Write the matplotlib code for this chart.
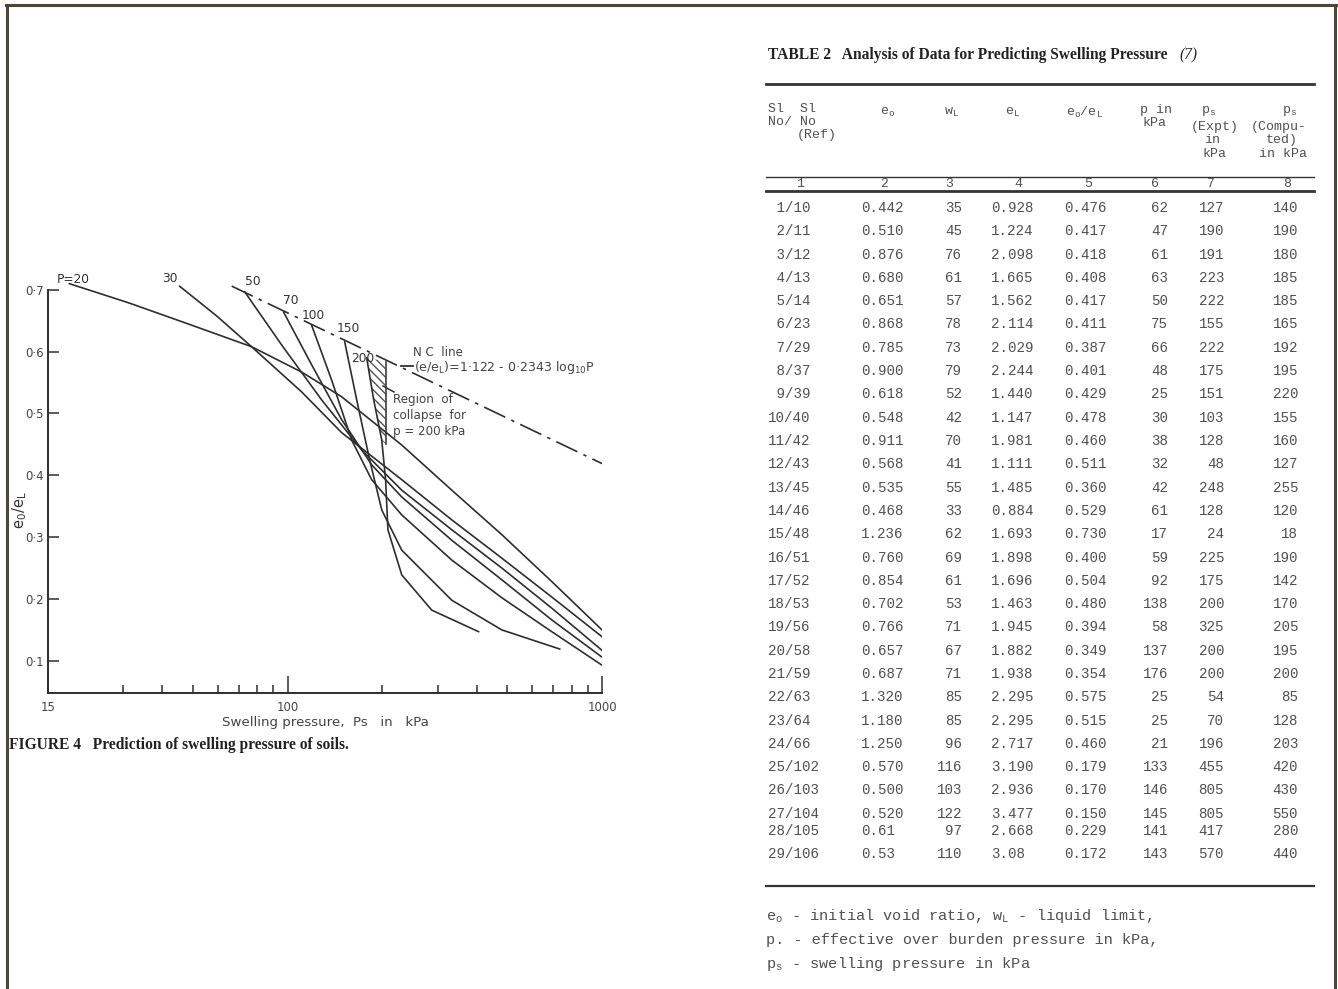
import matplotlib.pyplot as plt
from matplotlib.lines import Line2D

plt.rcParams['mathtext.fontset'] = 'custom'
plt.rcParams['mathtext.rm'] = 'Liberation Mono'
plt.rcParams['mathtext.it'] = 'Liberation Mono'
plt.rcParams['mathtext.sf'] = 'DejaVu Sans'

# ---------------- Figure 4: e0/eL vs swelling pressure ----------------
p_labels = ['P=20', '30', '50', '70', '100', '150', '200']

ps_p20 = [20.2, 31.2, 49.4, 76.8, 110.8, 148.6, 230.7, 332.8, 480.3, 693, 1000]
r_p20 = [0.710, 0.679, 0.643, 0.608, 0.567, 0.527, 0.449, 0.376, 0.304, 0.228, 0.150]
ps_p30 = [45.3, 59.4, 76.8, 110.8, 148.6, 230.7, 332.8, 480.3, 693, 1000]
r_p30 = [0.706, 0.658, 0.608, 0.535, 0.469, 0.393, 0.328, 0.266, 0.203, 0.139]
ps_p50 = [73.0, 95.7, 128.3, 172.0, 230.7, 332.8, 480.3, 693, 1000]
r_p50 = [0.697, 0.611, 0.522, 0.441, 0.376, 0.312, 0.250, 0.185, 0.117]
ps_p70 = [97.1, 119.2, 148.6, 185.1, 230.7, 332.8, 480.3, 693, 1000]
r_p70 = [0.664, 0.579, 0.490, 0.417, 0.365, 0.295, 0.231, 0.166, 0.106]
ps_p100 = [119.2, 138.1, 159.9, 185.1, 230.7, 332.8, 480.3, 693, 1000]
r_p100 = [0.643, 0.554, 0.457, 0.393, 0.336, 0.263, 0.202, 0.147, 0.093]
ps_p150 = [151.9, 165.9, 182.4, 199.3, 230.7, 332.8, 480.3, 734.8]
r_p150 = [0.616, 0.522, 0.425, 0.344, 0.279, 0.198, 0.150, 0.119]
ps_p200 = [178.5, 187.9, 199.3, 205.0, 208.5, 230.7, 287.4, 405.6]
r_p200 = [0.590, 0.522, 0.457, 0.393, 0.312, 0.239, 0.182, 0.147]

# N C line end points
nc_ps = [66.4, 1000]
nc_r = [0.706, 0.419]

# region of collapse for p = 200 kPa
collapse_ps = [178.5, 205.0, 205.0, 199.3, 187.9]
collapse_r = [0.590, 0.584, 0.450, 0.457, 0.522]

yticks = [0.1, 0.2, 0.3, 0.4, 0.5, 0.6, 0.7]
ytick_labels = ['0·1', '0·2', '0·3', '0·4', '0·5', '0·6', '0·7']
xminor = [30, 40, 50, 60, 70, 80, 90, 200, 300, 400, 500, 600, 700, 800, 900]

# ---------------- Table 2 ----------------
sl_no = ['1/10', '2/11', '3/12', '4/13', '5/14', '6/23', '7/29', '8/37', '9/39',
         '10/40', '11/42', '12/43', '13/45', '14/46', '15/48', '16/51', '17/52',
         '18/53', '19/56', '20/58', '21/59', '22/63', '23/64', '24/66', '25/102',
         '26/103', '27/104', '28/105', '29/106']
e_o = ['0.442', '0.510', '0.876', '0.680', '0.651', '0.868', '0.785', '0.900', '0.618',
       '0.548', '0.911', '0.568', '0.535', '0.468', '1.236', '0.760', '0.854', '0.702',
       '0.766', '0.657', '0.687', '1.320', '1.180', '1.250', '0.570', '0.500', '0.520',
       '0.61', '0.53']
w_L = ['35', '45', '76', '61', '57', '78', '73', '79', '52', '42', '70', '41', '55', '33',
       '62', '69', '61', '53', '71', '67', '71', '85', '85', '96', '116', '103', '122',
       '97', '110']
e_L = ['0.928', '1.224', '2.098', '1.665', '1.562', '2.114', '2.029', '2.244', '1.440',
       '1.147', '1.981', '1.111', '1.485', '0.884', '1.693', '1.898', '1.696', '1.463',
       '1.945', '1.882', '1.938', '2.295', '2.295', '2.717', '3.190', '2.936', '3.477',
       '2.668', '3.08']
eo_eL = ['0.476', '0.417', '0.418', '0.408', '0.417', '0.411', '0.387', '0.401', '0.429',
         '0.478', '0.460', '0.511', '0.360', '0.529', '0.730', '0.400', '0.504', '0.480',
         '0.394', '0.349', '0.354', '0.575', '0.515', '0.460', '0.179', '0.170', '0.150',
         '0.229', '0.172']
p_kpa = ['62', '47', '61', '63', '50', '75', '66', '48', '25', '30', '38', '32', '42', '61',
         '17', '59', '92', '138', '58', '137', '176', '25', '25', '21', '133', '146', '145',
         '141', '143']
ps_expt = ['127', '190', '191', '223', '222', '155', '222', '175', '151', '103', '128',
           '48', '248', '128', '24', '225', '175', '200', '325', '200', '200', '54', '70',
           '196', '455', '805', '805', '417', '570']
ps_comp = ['140', '190', '180', '185', '185', '165', '192', '195', '220', '155', '160',
           '127', '255', '120', '18', '190', '142', '170', '205', '195', '200', '85', '128',
           '203', '420', '430', '550', '280', '440']

W, H = 1338, 989


def fx(x):
    return x / W


def fy(y):
    return 1 - y / H


fig = plt.figure(figsize=(W / 100, H / 100), dpi=100)
fig.patch.set_facecolor('white')

# page frame of the scan
frame = '#4d4836'
for xs, ys in [([6, 1337], [5, 5]), ([7, 7], [5, 989]), ([1335, 1335], [5, 989])]:
    fig.add_artist(Line2D([fx(v) for v in xs], [fy(v) for v in ys], color=frame, lw=2.2))

ink = '#2e2e2e'
ax = fig.add_axes([fx(48), fy(693), (602 - 48) / W, (693 - 270) / H])
ax.set_xscale('log')
ax.set_xlim(17.3, 1000)
ax.set_ylim(0.048, 0.732)
for s in ['top', 'right']:
    ax.spines[s].set_visible(False)
ax.spines['left'].set_bounds(0.048, 0.7)
for s in ['left', 'bottom']:
    ax.spines[s].set_color(ink)
    ax.spines[s].set_linewidth(1.4)

ax.set_yticks(yticks, ytick_labels)
ax.set_xticks([17.3, 100, 1000], ['15', '100', '1000'])
ax.set_xticks(xminor, minor=True)
ax.xaxis.set_minor_formatter(plt.NullFormatter())
ax.tick_params(axis='both', which='both', direction='in', color=ink, width=1.1,
               labelsize=8.5, labelcolor='#444444')
ax.tick_params(axis='x', which='major', length=12, pad=6)
ax.tick_params(axis='x', which='minor', length=6)
ax.tick_params(axis='y', which='major', length=8, pad=3)

curves = [(ps_p20, r_p20), (ps_p30, r_p30), (ps_p50, r_p50), (ps_p70, r_p70),
          (ps_p100, r_p100), (ps_p150, r_p150), (ps_p200, r_p200)]
offsets = [(4, -2), (-10, 1), (8, 4), (7, 5), (2, 3), (4, 7), (-4, -7)]
for (xs, ys), lab, off in zip(curves, p_labels, offsets):
    ax.plot(xs, ys, color=ink, lw=1.2, solid_capstyle='round')
    ax.annotate(lab, (xs[0], ys[0]), xytext=off, textcoords='offset pixels',
                fontsize=8.8, color='#333333', ha='center', va='bottom', annotation_clip=False)

ax.plot(nc_ps, nc_r, color=ink, lw=1.2, dashes=(14, 4, 2, 4))
ax.plot([collapse_ps[1], collapse_ps[2]], [collapse_r[1], collapse_r[2]], color=ink, lw=1.1)
ax.fill(collapse_ps, collapse_r, facecolor='none', edgecolor='#555555', lw=0, hatch='\\\\\\\\')

ax.set_ylabel(r'$\mathsf{e_0/e_L}$', fontsize=10.5, color='#333333')
ax.yaxis.set_label_coords(-0.034, 0.433)
ax.set_xlabel('Swelling pressure,  Ps   in   kPa', fontsize=9.6, color='#444444', labelpad=1)

fig.text(fx(413), fy(353), 'N C  line', fontsize=8.6, color='#444444', va='center')
fig.text(fx(414), fy(368), r'(e/e$_\mathsf{L}$)=1·122 - 0·2343 log$_\mathsf{10}$P', fontsize=9,
         color='#444444', va='center')
fig.add_artist(Line2D([fx(401), fx(413)], [fy(366), fy(366)], color=ink, lw=1.3))
fig.text(fx(393), fy(416), 'Region  of\ncollapse  for\np = 200 kPa', fontsize=8.6,
         color='#444444', va='center', linespacing=1.3)
fig.add_artist(Line2D([fx(383), fx(394)], [fy(386), fy(392)], color=ink, lw=1.1))

fig.text(fx(9), fy(745), 'FIGURE 4   Prediction of swelling pressure of soils.',
         family='Liberation Serif', weight='bold', fontsize=11.2, color='#222222', va='center')

# ---------------- table ----------------
tcol = '#505050'
mono = dict(family='Liberation Mono', fontsize=10.2, color=tcol, va='center')

fig.text(fx(768), fy(55), 'TABLE 2   Analysis of Data for Predicting Swelling Pressure',
         family='Liberation Serif', weight='bold', fontsize=11.2, color='#222222', va='center')
fig.text(fx(1179), fy(55), '(7)', family='Liberation Serif', style='italic',
         fontsize=11.2, color='#222222', va='center')

for y, lw in [(84, 2.0), (177, 1.0), (191, 2.0), (886, 1.6)]:
    fig.add_artist(Line2D([fx(766), fx(1314)], [fy(y), fy(y)], color='#333333', lw=lw))

hdr = dict(family='Liberation Mono', fontsize=9.5, color=tcol, va='center')
fig.text(fx(768), fy(109), 'Sl  Sl', **hdr)
fig.text(fx(768), fy(122), 'No/ No', **hdr)
fig.text(fx(797), fy(135), '(Ref)', **hdr)
fig.text(fx(880), fy(112), r'e$_\mathrm{o}$', **hdr)
fig.text(fx(944), fy(112), r'w$_\mathrm{L}$', **hdr)
fig.text(fx(1005), fy(112), r'e$_\mathrm{L}$', **hdr)
fig.text(fx(1066), fy(112), r'e$_\mathrm{o}$/e$_\mathrm{L}$', **hdr)
fig.text(fx(1140), fy(110), 'p in', **hdr)
fig.text(fx(1142), fy(123), 'kPa', **hdr)
fig.text(fx(1201), fy(111), r'p$_\mathrm{s}$', **hdr)
fig.text(fx(1282), fy(111), r'p$_\mathrm{s}$', **hdr)
for txt, cx, y in [('(Expt)', 1215, 127), ('in', 1212, 140), ('kPa', 1215, 154),
                   ('(Compu-', 1279, 127), ('ted)', 1282, 140), ('in kPa', 1283, 154)]:
    fig.text(fx(cx), fy(y), txt, ha='center', **hdr)

for i, cx in enumerate([800, 884, 949, 1018, 1088, 1155, 1211, 1287]):
    fig.text(fx(cx), fy(184), str(i + 1), ha='center', **hdr)

row_y = [208 + 23.3 * i for i in range(27)] + [831, 854]
for i, y in enumerate(row_y):
    fig.text(fx(768), fy(y), sl_no[i].rjust(5), ha='left', **mono)
    fig.text(fx(861), fy(y), e_o[i], ha='left', **mono)
    fig.text(fx(962), fy(y), w_L[i], ha='right', **mono)
    fig.text(fx(991), fy(y), e_L[i], ha='left', **mono)
    fig.text(fx(1064), fy(y), eo_eL[i], ha='left', **mono)
    fig.text(fx(1168), fy(y), p_kpa[i], ha='right', **mono)
    fig.text(fx(1224), fy(y), ps_expt[i], ha='right', **mono)
    fig.text(fx(1298), fy(y), ps_comp[i], ha='right', **mono)

foot = dict(family='Liberation Mono', fontsize=11, color=tcol, va='center')
fig.text(fx(766), fy(916), r'e$_\mathrm{o}$ - initial void ratio, w$_\mathrm{L}$ - liquid limit,', **foot)
fig.text(fx(766), fy(940), 'p. - effective over burden pressure in kPa,', **foot)
fig.text(fx(766), fy(964), r'p$_\mathrm{s}$ - swelling pressure in kPa', **foot)

fig.savefig('out.png', dpi=100, facecolor='white')
